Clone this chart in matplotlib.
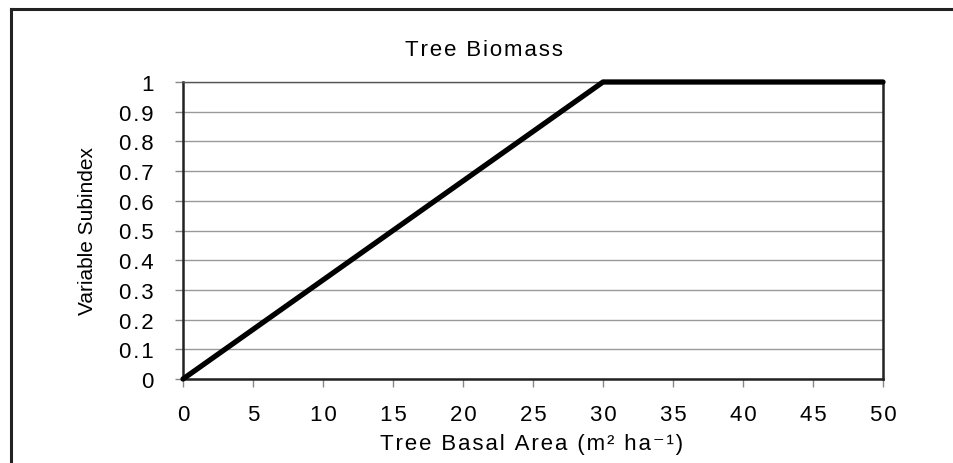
import matplotlib
matplotlib.use("Agg")
import matplotlib.pyplot as plt
from matplotlib.lines import Line2D

plt.rcParams['font.family'] = ['Liberation Sans', 'DejaVu Sans']

# breakpoints of the subindex curve
basal_area = [0, 30, 50]
subindex = [0, 1, 1]

x_ticks = [0, 5, 10, 15, 20, 25, 30, 35, 40, 45, 50]
y_ticks = [0, 0.1, 0.2, 0.3, 0.4, 0.5, 0.6, 0.7, 0.8, 0.9, 1]
y_labels = ['0', '0.1', '0.2', '0.3', '0.4', '0.5', '0.6', '0.7', '0.8', '0.9', '1']


def spaced(s):
    # the original text is slightly letter-spaced
    return '\u200a'.join(s)


fig = plt.figure(figsize=(9.54, 4.64), dpi=100)
ax = fig.add_axes([183 / 954, 1 - 380 / 464, (883 - 183) / 954, (380 - 83) / 464])

# outer frame, only left and top edges show in the crop
fig.add_artist(Line2D([11 / 954, 11 / 954], [0, 1 - 10 / 464], color='#222222', lw=2.2,
                      transform=fig.transFigure))
fig.add_artist(Line2D([11 / 954, 1], [1 - 10 / 464, 1 - 10 / 464], color='#222222', lw=2.2,
                      transform=fig.transFigure))

ax.plot(basal_area, subindex, color='black', lw=3.8, solid_capstyle='round', clip_on=False, zorder=5)

ax.set_xlim(0, 50)
ax.set_ylim(0, 1)
ax.set_xticks(x_ticks)
ax.set_xticklabels([spaced(str(v)) for v in x_ticks])
ax.set_yticks(y_ticks)
ax.set_yticklabels([spaced(s) for s in y_labels])
ax.grid(axis='y', color='#999999', lw=1)
ax.set_axisbelow(True)

for side in ['left', 'bottom', 'right']:
    ax.spines[side].set_color('#222222')
    ax.spines[side].set_linewidth(1.8)
ax.spines['top'].set_color('#555555')
ax.spines['top'].set_linewidth(1)

ax.tick_params(axis='y', length=6, width=1, color='#888888', labelsize=16, pad=15)
ax.tick_params(axis='x', length=6, width=1, color='#888888', labelsize=16, pad=12)

fig.text(484 / 954, 1 - 51 / 464, spaced('Tree Biomass'), ha='center', va='center', fontsize=16)
fig.text(532 / 954, 1 - 445 / 464, spaced('Tree Basal Area (m\u00b2 ha\u207b\u00b9)'),
         ha='center', va='center', fontsize=16)
fig.text(88 / 954, 1 - 231 / 464, 'Variable Subindex', ha='center', va='center', rotation=90, fontsize=15)

fig.savefig('out.png', dpi=100)
